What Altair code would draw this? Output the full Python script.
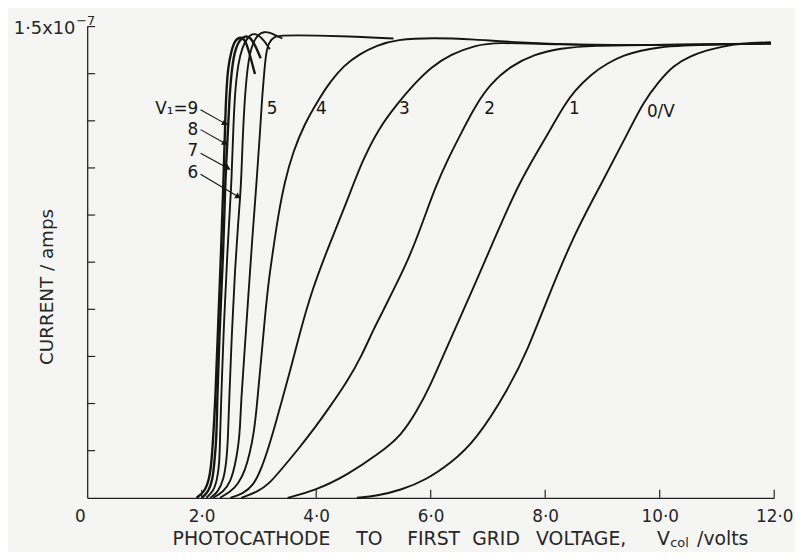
import altair as alt
import pandas as pd

# ---- data (V in volts, I in units of 1e-7 A) ----
V_0 = [4.71, 5.06, 5.49, 5.92, 6.35, 6.78, 7.36, 7.70, 8.03, 8.51, 8.98, 9.43, 9.72, 9.98, 10.24, 10.54, 10.81, 11.11, 11.40, 11.94]
I_0 = [0, 0.006, 0.025, 0.057, 0.110, 0.180, 0.347, 0.473, 0.630, 0.841, 0.999, 1.157, 1.261, 1.324, 1.377, 1.406, 1.424, 1.437, 1.446, 1.450]

V_1 = [3.50, 3.97, 4.54, 5.11, 5.49, 5.75, 5.97, 6.32, 6.73, 7.08, 7.53, 7.94, 8.12, 8.34, 8.51, 8.81, 9.08, 9.38, 9.67, 9.98, 10.41, 10.93, 11.94]
I_1 = [0, 0.022, 0.072, 0.142, 0.199, 0.274, 0.347, 0.495, 0.662, 0.810, 0.999, 1.125, 1.182, 1.251, 1.295, 1.349, 1.383, 1.409, 1.424, 1.434, 1.440, 1.443, 1.446]

V_2 = [2.69, 2.98, 3.19, 3.38, 3.67, 3.97, 4.24, 4.54, 4.80, 5.00, 5.18, 5.35, 5.63, 5.87, 6.09, 6.30, 6.53, 6.78, 7.04, 7.39, 7.82, 8.25, 8.86, 9.72, 11.94]
I_2 = [0, 0.019, 0.047, 0.088, 0.151, 0.221, 0.290, 0.369, 0.454, 0.536, 0.599, 0.662, 0.766, 0.882, 0.993, 1.078, 1.160, 1.248, 1.317, 1.374, 1.412, 1.431, 1.440, 1.441, 1.446]

V_3 = [2.50, 2.72, 2.90, 3.05, 3.19, 3.29, 3.41, 3.53, 3.73, 3.93, 4.19, 4.54, 4.80, 5.09, 5.40, 5.71, 6.01, 6.35, 6.78, 7.13, 8.17, 9.72, 11.94]
I_3 = [0, 0.013, 0.038, 0.095, 0.173, 0.236, 0.315, 0.394, 0.536, 0.662, 0.788, 0.945, 1.071, 1.175, 1.251, 1.317, 1.371, 1.412, 1.440, 1.450, 1.443, 1.440, 1.446]

V_4 = [2.32, 2.50, 2.64, 2.76, 2.84, 2.91, 2.96, 3.03, 3.10, 3.17, 3.26, 3.33, 3.45, 3.60, 3.79, 4.02, 4.24, 4.49, 4.75, 5.06, 5.40, 6.04, 6.78, 7.48, 8.86]
I_4 = [0, 0.019, 0.044, 0.088, 0.142, 0.205, 0.284, 0.425, 0.567, 0.693, 0.804, 0.892, 1.008, 1.103, 1.188, 1.261, 1.324, 1.377, 1.412, 1.440, 1.459, 1.465, 1.459, 1.450, 1.440]

V_5 = [2.20, 2.38, 2.50, 2.58, 2.64, 2.67, 2.69, 2.74, 2.81, 2.88, 2.96, 3.02, 3.05, 3.09, 3.12, 3.17, 3.26, 3.41, 3.67, 3.97, 4.71, 5.35]
I_5 = [0, 0.019, 0.050, 0.101, 0.164, 0.221, 0.315, 0.441, 0.630, 0.819, 1.008, 1.166, 1.261, 1.349, 1.412, 1.450, 1.468, 1.472, 1.472, 1.472, 1.468, 1.462]

V_6 = [2.15, 2.29, 2.38, 2.43, 2.46, 2.48, 2.53, 2.58, 2.64, 2.67, 2.69, 2.72, 2.76, 2.81, 2.88, 2.98, 3.09, 3.19, 3.29, 3.41]
I_6 = [0, 0.019, 0.057, 0.110, 0.189, 0.315, 0.536, 0.725, 0.882, 0.955, 1.008, 1.166, 1.292, 1.387, 1.443, 1.475, 1.484, 1.481, 1.472, 1.462]

V_7 = [2.08, 2.20, 2.27, 2.31, 2.32, 2.34, 2.39, 2.45, 2.50, 2.52, 2.55, 2.58, 2.64, 2.71, 2.79, 2.88, 2.98, 3.09, 3.19]
I_7 = [0, 0.019, 0.057, 0.110, 0.189, 0.315, 0.567, 0.788, 0.945, 1.008, 1.166, 1.292, 1.387, 1.434, 1.462, 1.478, 1.475, 1.456, 1.428]

V_8 = [2.00, 2.12, 2.19, 2.22, 2.26, 2.27, 2.32, 2.38, 2.41, 2.45, 2.48, 2.52, 2.57, 2.65, 2.76, 2.86, 2.95, 3.03]
I_8 = [0, 0.019, 0.057, 0.110, 0.189, 0.315, 0.567, 0.788, 1.008, 1.134, 1.261, 1.355, 1.418, 1.456, 1.472, 1.465, 1.434, 1.399]

V_9 = [1.91, 2.05, 2.13, 2.17, 2.20, 2.24, 2.29, 2.34, 2.38, 2.41, 2.43, 2.46, 2.52, 2.58, 2.67, 2.76, 2.83, 2.93]
I_9 = [0, 0.019, 0.057, 0.110, 0.189, 0.315, 0.567, 0.788, 1.008, 1.197, 1.292, 1.371, 1.424, 1.456, 1.468, 1.459, 1.418, 1.349]

curve_names = ["0", "1", "2", "3", "4", "5", "6", "7", "8", "9"]
curve_V = [V_0, V_1, V_2, V_3, V_4, V_5, V_6, V_7, V_8, V_9]
curve_I = [I_0, I_1, I_2, I_3, I_4, I_5, I_6, I_7, I_8, I_9]

# curve labels
left_labels = ["V\u2081=9", "8", "7", "6"]
left_lab_V = [1.94, 1.94, 1.94, 1.94]
left_lab_I = [1.238, 1.172, 1.103, 1.034]
top_labels = ["5", "4", "3", "2", "1", "0/V"]
top_lab_V = [3.23, 4.09, 5.54, 7.03, 8.51, 10.02]
top_lab_I = [1.238, 1.238, 1.238, 1.238, 1.238, 1.229]

# arrows from labels to curves
arr_V0 = [1.98, 1.98, 1.98, 1.98]
arr_I0 = [1.235, 1.172, 1.097, 1.030]
arr_V1 = [2.41, 2.41, 2.46, 2.64]
arr_I1 = [1.191, 1.128, 1.049, 0.958]

x_tick_vals = [2, 4, 6, 8, 10, 12]
x_inner_ticks = [2, 4, 6, 8, 10, 12]
y_inner_ticks = [0.15, 0.30, 0.45, 0.60, 0.75, 0.90, 1.05, 1.20, 1.35, 1.50]

x_origin_label = "0"
x_title_words = ["PHOTOCATHODE", "TO", "FIRST", "GRID", "VOLTAGE,", "V", "/volts"]
y_title = "CURRENT / amps"
y_top_label = "1\u00b75x10"
y_top_exp = "\u22127"

# ---- build tables ----
rows = []
for name, vs, is_ in zip(curve_names, curve_V, curve_I):
    for k, (v, i) in enumerate(zip(vs, is_)):
        rows.append({"curve": name, "k": k, "V": v, "I": i})
df = pd.DataFrame(rows)

FONT = "DejaVu Sans"
INK = "#151515"
TXT = "#262626"
W, H = 694, 476

xs = alt.Scale(domain=[0, 12], nice=False, zero=False)
ys = alt.Scale(domain=[0, 1.5], nice=False)

x_axis = alt.Axis(values=x_tick_vals, labelExpr="datum.value + '\u00b70'",
                  ticks=False, grid=False, domainColor="#222222", domainWidth=1.3,
                  labelFont=FONT, labelFontSize=17, labelColor=TXT, labelPadding=11,
                  labelFlush=False, title=None)
y_axis = alt.Axis(labels=False, ticks=False, grid=False, domainColor="#222222",
                  domainWidth=1.3, title=None)

thin = alt.Chart(df).transform_filter(
    "datum.curve != '8' && datum.curve != '9'"
).mark_line(interpolate="basis", color=INK, strokeWidth=1.9).encode(
    x=alt.X("V:Q", scale=xs, axis=x_axis),
    y=alt.Y("I:Q", scale=ys, axis=y_axis),
    detail="curve:N",
    order="k:Q",
)
thick = alt.Chart(df).transform_filter(
    "datum.curve == '8' || datum.curve == '9'"
).mark_line(interpolate="basis", color=INK, strokeWidth=2.4).encode(
    x=alt.X("V:Q", scale=xs),
    y=alt.Y("I:Q", scale=ys),
    detail="curve:N",
    order="k:Q",
)

xt = alt.Chart(pd.DataFrame({"v": x_inner_ticks})).mark_rule(color="#222222", strokeWidth=1.2).encode(
    x=alt.X("v:Q", scale=xs), y=alt.value(H), y2=alt.value(H - 8))
yt = alt.Chart(pd.DataFrame({"v": y_inner_ticks})).mark_rule(color="#222222", strokeWidth=1.2).encode(
    y=alt.Y("v:Q", scale=ys), x=alt.value(0), x2=alt.value(8))

lab_left = alt.Chart(pd.DataFrame({"t": left_labels, "V": left_lab_V, "I": left_lab_I})).mark_text(
    font=FONT, fontSize=17, color=INK, align="right", baseline="middle").encode(
    x=alt.X("V:Q", scale=xs), y=alt.Y("I:Q", scale=ys), text="t:N")
lab_top = alt.Chart(pd.DataFrame({"t": top_labels, "V": top_lab_V, "I": top_lab_I})).mark_text(
    font=FONT, fontSize=17, color=INK, align="center", baseline="middle").encode(
    x=alt.X("V:Q", scale=xs), y=alt.Y("I:Q", scale=ys), text="t:N")

arr_df = pd.DataFrame({"V0": arr_V0, "I0": arr_I0, "V1": arr_V1, "I1": arr_I1})
arrows = alt.Chart(arr_df).mark_rule(color=INK, strokeWidth=1.1).encode(
    x=alt.X("V0:Q", scale=xs), y=alt.Y("I0:Q", scale=ys), x2="V1:Q", y2="I1:Q")
heads = alt.Chart(arr_df).mark_point(shape="triangle-right", filled=True, color=INK,
                                     size=45, angle=30, opacity=1).encode(
    x=alt.X("V1:Q", scale=xs), y=alt.Y("I1:Q", scale=ys))

# axis titles / extra labels as positioned text (pixels relative to plot origin)
zero_lab = alt.Chart(pd.DataFrame({"t": [x_origin_label]})).mark_text(
    font=FONT, fontSize=17, color=TXT, align="center", baseline="top").encode(
    x=alt.value(-7), y=alt.value(H + 11), text="t:N")
title_df = pd.DataFrame({"t": x_title_words,
                         "px": [166, 285, 350, 413, 499, 582, 642],
                         "py": [518] * 7})
xtitle = alt.Chart(title_df).mark_text(font=FONT, fontSize=19, color=TXT,
                                       align="center", baseline="middle").encode(
    x=alt.X("px:Q", scale=None, axis=None), y=alt.Y("py:Q", scale=None, axis=None), text="t:N")
sub = alt.Chart(pd.DataFrame({"t": ["col"]})).mark_text(
    font=FONT, fontSize=13, color=TXT, align="left", baseline="middle").encode(
    x=alt.value(589), y=alt.value(522), text="t:N")
ytitle = alt.Chart(pd.DataFrame({"t": [y_title]})).mark_text(
    font=FONT, fontSize=18.5, color=TXT, align="center", baseline="middle", angle=270).encode(
    x=alt.value(-41), y=alt.value(263), text="t:N")
ylab = alt.Chart(pd.DataFrame({"t": [y_top_label]})).mark_text(
    font=FONT, fontSize=18, color=TXT, align="right", baseline="middle").encode(
    x=alt.value(-12), y=alt.value(3), text="t:N")
yexp = alt.Chart(pd.DataFrame({"t": [y_top_exp]})).mark_text(
    font=FONT, fontSize=13, color=TXT, align="left", baseline="middle").encode(
    x=alt.value(-11), y=alt.value(-6), text="t:N")

chart = alt.layer(
    thin, thick, xt, yt, arrows, heads, lab_left, lab_top, zero_lab, xtitle, sub, ytitle, ylab, yexp
).properties(
    width=W, height=H,
    autosize="none",
    padding={"left": 80, "top": 16, "right": 21, "bottom": 52},
    background="#f5f5f3",
).configure_view(stroke=None)

chart.save("out.html", embed_options={"renderer": "svg", "actions": False})
